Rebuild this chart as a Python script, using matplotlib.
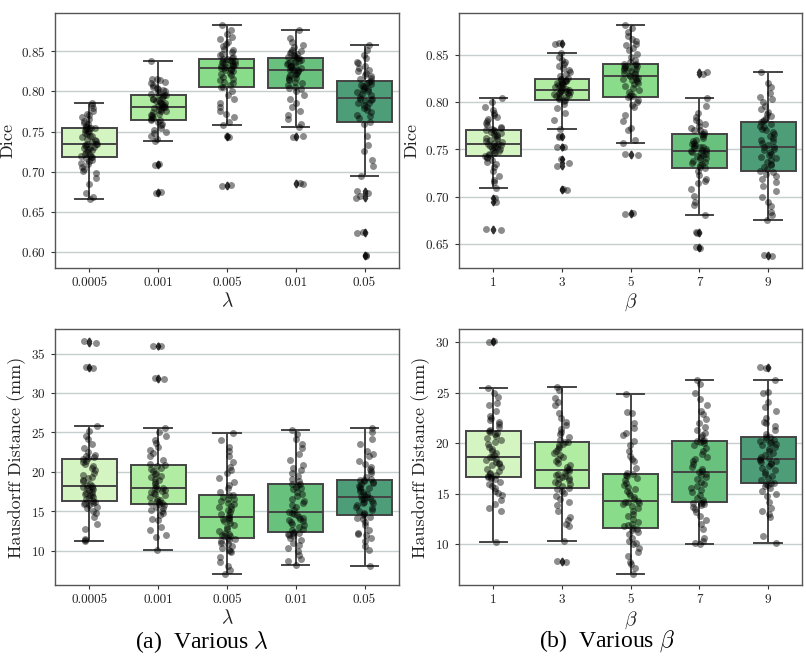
import matplotlib
matplotlib.use("Agg")
import matplotlib.pyplot as plt
from matplotlib.ticker import MultipleLocator
import numpy as np
import pandas as pd
import seaborn as sns

# categories
lambda_labels = ["0.0005", "0.001", "0.005", "0.01", "0.05"]
beta_labels = ["1", "3", "5", "7", "9"]

# Dice per lambda
dice_lambda = [
    [0.666, 0.668, 0.674, 0.685, 0.692, 0.698, 0.701, 0.704, 0.706, 0.709, 0.711, 0.713, 0.715, 0.717, 0.718,
     0.718, 0.719, 0.721, 0.722, 0.724, 0.725, 0.727, 0.728, 0.729, 0.730, 0.731, 0.732, 0.733, 0.734, 0.735,
     0.735, 0.737, 0.738, 0.739, 0.741, 0.743, 0.744, 0.745, 0.747, 0.748, 0.750, 0.751, 0.752, 0.753, 0.754,
     0.754, 0.755, 0.756, 0.757, 0.759, 0.761, 0.763, 0.765, 0.768, 0.770, 0.772, 0.775, 0.779, 0.783, 0.786],
    [0.673, 0.675, 0.708, 0.710, 0.738, 0.741, 0.745, 0.748, 0.750, 0.752, 0.755, 0.758, 0.760, 0.762, 0.764,
     0.764, 0.765, 0.767, 0.768, 0.770, 0.771, 0.772, 0.774, 0.775, 0.776, 0.777, 0.778, 0.779, 0.780, 0.781,
     0.781, 0.782, 0.783, 0.784, 0.785, 0.786, 0.787, 0.788, 0.789, 0.790, 0.791, 0.792, 0.794, 0.795, 0.796,
     0.796, 0.797, 0.799, 0.800, 0.802, 0.803, 0.804, 0.806, 0.808, 0.810, 0.812, 0.814, 0.816, 0.816, 0.838],
    [0.682, 0.683, 0.743, 0.745, 0.758, 0.762, 0.768, 0.772, 0.776, 0.780, 0.786, 0.791, 0.796, 0.800, 0.805,
     0.806, 0.808, 0.810, 0.812, 0.814, 0.816, 0.818, 0.820, 0.822, 0.823, 0.825, 0.826, 0.827, 0.828, 0.829,
     0.829, 0.830, 0.831, 0.832, 0.833, 0.834, 0.834, 0.835, 0.836, 0.837, 0.838, 0.838, 0.839, 0.840, 0.840,
     0.841, 0.843, 0.845, 0.847, 0.849, 0.851, 0.853, 0.856, 0.859, 0.862, 0.865, 0.868, 0.872, 0.877, 0.883],
    [0.685, 0.686, 0.743, 0.745, 0.756, 0.760, 0.766, 0.771, 0.776, 0.781, 0.786, 0.791, 0.795, 0.800, 0.803,
     0.804, 0.806, 0.808, 0.810, 0.812, 0.814, 0.815, 0.817, 0.818, 0.820, 0.821, 0.822, 0.823, 0.825, 0.826,
     0.826, 0.827, 0.828, 0.829, 0.830, 0.831, 0.832, 0.833, 0.834, 0.835, 0.836, 0.837, 0.838, 0.839, 0.841,
     0.841, 0.842, 0.843, 0.844, 0.845, 0.846, 0.848, 0.849, 0.850, 0.852, 0.855, 0.858, 0.861, 0.867, 0.876],
    [0.595, 0.596, 0.624, 0.625, 0.667, 0.670, 0.674, 0.676, 0.695, 0.707, 0.715, 0.726, 0.733, 0.744, 0.760,
     0.762, 0.767, 0.769, 0.771, 0.774, 0.777, 0.779, 0.781, 0.783, 0.785, 0.786, 0.788, 0.789, 0.790, 0.791,
     0.793, 0.795, 0.797, 0.799, 0.800, 0.802, 0.803, 0.804, 0.806, 0.807, 0.808, 0.809, 0.811, 0.812, 0.813,
     0.815, 0.817, 0.819, 0.821, 0.823, 0.825, 0.827, 0.829, 0.832, 0.835, 0.837, 0.841, 0.845, 0.852, 0.858],
]

# Dice per beta
dice_beta = [
    [0.665, 0.666, 0.694, 0.699, 0.709, 0.715, 0.718, 0.722, 0.727, 0.731, 0.734, 0.737, 0.739, 0.741, 0.742,
     0.743, 0.744, 0.745, 0.746, 0.747, 0.748, 0.749, 0.750, 0.751, 0.752, 0.753, 0.754, 0.754, 0.755, 0.756,
     0.756, 0.757, 0.758, 0.759, 0.760, 0.761, 0.762, 0.763, 0.764, 0.765, 0.766, 0.767, 0.768, 0.769, 0.770,
     0.771, 0.772, 0.773, 0.774, 0.776, 0.778, 0.780, 0.782, 0.784, 0.786, 0.789, 0.792, 0.795, 0.800, 0.804],
    [0.707, 0.708, 0.732, 0.736, 0.740, 0.752, 0.753, 0.763, 0.764, 0.772, 0.781, 0.788, 0.794, 0.798, 0.801,
     0.802, 0.803, 0.804, 0.805, 0.806, 0.807, 0.808, 0.809, 0.810, 0.810, 0.811, 0.811, 0.812, 0.812, 0.813,
     0.813, 0.814, 0.815, 0.816, 0.817, 0.818, 0.818, 0.819, 0.820, 0.820, 0.821, 0.822, 0.822, 0.823, 0.824,
     0.824, 0.826, 0.828, 0.830, 0.832, 0.834, 0.836, 0.838, 0.840, 0.842, 0.845, 0.848, 0.852, 0.862, 0.863],
    [0.682, 0.683, 0.744, 0.745, 0.757, 0.760, 0.770, 0.773, 0.780, 0.786, 0.795, 0.797, 0.800, 0.802, 0.805,
     0.806, 0.807, 0.809, 0.811, 0.813, 0.815, 0.817, 0.819, 0.820, 0.822, 0.823, 0.824, 0.825, 0.826, 0.827,
     0.828, 0.829, 0.830, 0.831, 0.832, 0.833, 0.834, 0.835, 0.836, 0.836, 0.837, 0.838, 0.838, 0.839, 0.840,
     0.840, 0.842, 0.845, 0.848, 0.851, 0.855, 0.857, 0.860, 0.862, 0.865, 0.867, 0.870, 0.874, 0.879, 0.882],
    [0.646, 0.647, 0.661, 0.662, 0.680, 0.691, 0.694, 0.701, 0.708, 0.714, 0.717, 0.719, 0.723, 0.727, 0.730,
     0.731, 0.733, 0.734, 0.736, 0.737, 0.738, 0.740, 0.741, 0.742, 0.743, 0.744, 0.745, 0.746, 0.747, 0.748,
     0.748, 0.749, 0.750, 0.751, 0.752, 0.753, 0.754, 0.755, 0.756, 0.757, 0.759, 0.760, 0.762, 0.764, 0.766,
     0.766, 0.768, 0.770, 0.771, 0.773, 0.775, 0.777, 0.779, 0.781, 0.784, 0.789, 0.796, 0.804, 0.830, 0.832],
    [0.637, 0.638, 0.675, 0.680, 0.684, 0.690, 0.694, 0.700, 0.706, 0.711, 0.715, 0.719, 0.722, 0.724, 0.726,
     0.727, 0.729, 0.731, 0.733, 0.735, 0.737, 0.739, 0.741, 0.742, 0.744, 0.745, 0.747, 0.749, 0.750, 0.752,
     0.753, 0.755, 0.757, 0.759, 0.760, 0.762, 0.764, 0.766, 0.768, 0.770, 0.772, 0.774, 0.775, 0.777, 0.779,
     0.780, 0.781, 0.783, 0.785, 0.787, 0.790, 0.793, 0.796, 0.800, 0.803, 0.805, 0.810, 0.816, 0.820, 0.832],
]

# Hausdorff distance (mm) per lambda
hd_lambda = [
    [11.2, 11.3, 11.5, 12.8, 13.4, 14.3, 14.8, 15.0, 15.4, 15.6, 15.8, 15.9, 16.0, 16.1, 16.2,
     16.3, 16.5, 16.7, 16.8, 17.0, 17.1, 17.2, 17.3, 17.5, 17.7, 17.8, 17.9, 18.0, 18.1, 18.2,
     18.3, 18.5, 18.8, 19.0, 19.2, 19.3, 19.6, 19.9, 20.2, 20.5, 20.8, 21.0, 21.2, 21.4, 21.6,
     21.7, 21.9, 22.0, 22.1, 22.5, 23.0, 23.5, 24.2, 24.6, 25.2, 25.8, 33.2, 33.3, 36.4, 36.6],
    [10.1, 11.7, 12.0, 12.6, 13.0, 13.9, 14.0, 14.5, 14.8, 15.0, 15.2, 15.4, 15.6, 15.8, 15.9,
     16.0, 16.1, 16.2, 16.3, 16.4, 16.6, 16.8, 17.0, 17.2, 17.3, 17.4, 17.6, 17.7, 17.8, 17.9,
     18.0, 18.2, 18.5, 18.7, 18.9, 19.1, 19.3, 19.5, 19.7, 19.9, 20.1, 20.3, 20.5, 20.7, 20.9,
     21.0, 21.5, 22.0, 22.4, 22.8, 23.2, 23.7, 24.0, 24.5, 25.0, 25.6, 31.8, 31.9, 35.9, 36.0],
    [7.1, 7.6, 8.0, 8.5, 9.2, 9.8, 10.0, 10.1, 10.3, 10.6, 10.8, 11.0, 11.2, 11.4, 11.5,
     11.6, 11.8, 11.9, 12.0, 12.1, 12.3, 12.5, 12.8, 13.0, 13.3, 13.5, 13.7, 13.9, 14.0, 14.2,
     14.3, 14.5, 14.7, 14.9, 15.1, 15.3, 15.5, 15.7, 15.9, 16.1, 16.3, 16.5, 16.6, 16.8, 17.0,
     17.1, 17.5, 18.0, 18.3, 18.7, 19.2, 19.8, 20.2, 20.6, 21.2, 22.0, 22.7, 23.1, 24.0, 24.9],
    [8.2, 8.7, 9.0, 9.4, 9.9, 10.3, 10.7, 11.0, 11.3, 11.6, 11.8, 12.0, 12.1, 12.2, 12.3,
     12.4, 12.6, 12.8, 13.0, 13.2, 13.4, 13.6, 13.8, 13.9, 14.0, 14.1, 14.3, 14.5, 14.7, 14.8,
     14.9, 15.2, 15.5, 15.8, 16.0, 16.3, 16.6, 16.9, 17.2, 17.5, 17.8, 18.0, 18.1, 18.3, 18.4,
     18.5, 18.8, 19.1, 19.5, 19.8, 20.2, 20.5, 20.9, 21.5, 22.3, 23.0, 23.5, 24.2, 24.8, 25.3],
    [8.1, 10.1, 10.6, 11.2, 11.6, 12.0, 12.1, 12.3, 12.6, 13.2, 13.6, 14.0, 14.1, 14.3, 14.5,
     14.6, 14.8, 15.0, 15.2, 15.4, 15.6, 15.8, 16.0, 16.1, 16.2, 16.3, 16.5, 16.6, 16.7, 16.8,
     16.9, 17.0, 17.2, 17.4, 17.6, 17.8, 18.0, 18.1, 18.2, 18.4, 18.6, 18.7, 18.8, 18.9, 19.0,
     19.1, 19.4, 19.8, 20.1, 20.4, 20.6, 21.0, 21.4, 22.0, 22.3, 22.6, 23.5, 24.2, 25.0, 25.6],
]

# Hausdorff distance (mm) per beta
hd_beta = [
    [10.2, 13.3, 13.6, 14.0, 14.4, 14.9, 15.1, 15.3, 15.6, 15.8, 16.0, 16.2, 16.4, 16.5, 16.6,
     16.6, 16.7, 16.8, 16.9, 17.0, 17.2, 17.4, 17.6, 17.8, 17.9, 18.0, 18.1, 18.3, 18.4, 18.6,
     18.6, 18.8, 19.0, 19.2, 19.4, 19.6, 19.9, 20.1, 20.3, 20.5, 20.7, 20.9, 21.0, 21.1, 21.2,
     21.3, 21.6, 21.9, 22.1, 22.3, 22.5, 22.7, 23.2, 23.8, 24.0, 24.6, 25.0, 25.4, 30.0, 30.1],
    [8.2, 8.3, 10.3, 11.8, 12.0, 12.4, 12.7, 13.3, 13.9, 14.2, 14.5, 14.8, 15.1, 15.3, 15.5,
     15.6, 15.8, 16.0, 16.1, 16.2, 16.3, 16.4, 16.5, 16.6, 16.7, 16.8, 16.9, 17.0, 17.2, 17.3,
     17.4, 17.6, 17.8, 18.0, 18.2, 18.4, 18.6, 18.8, 19.0, 19.2, 19.4, 19.6, 19.8, 19.9, 20.1,
     20.1, 20.3, 20.6, 20.9, 21.1, 21.4, 21.8, 22.1, 22.5, 23.0, 23.8, 24.1, 24.5, 25.2, 25.5],
    [7.1, 7.6, 8.0, 8.2, 8.8, 9.2, 9.6, 10.0, 10.1, 10.3, 10.6, 11.0, 11.2, 11.4, 11.5,
     11.6, 11.8, 11.9, 12.0, 12.2, 12.5, 12.8, 13.0, 13.3, 13.6, 13.8, 14.0, 14.1, 14.2, 14.2,
     14.3, 14.5, 14.7, 14.9, 15.1, 15.3, 15.5, 15.7, 15.9, 16.1, 16.3, 16.5, 16.7, 16.8, 16.9,
     17.0, 17.5, 18.2, 18.4, 18.7, 19.2, 19.8, 20.2, 20.8, 21.0, 21.5, 22.0, 23.0, 23.1, 24.9],
    [10.0, 10.1, 10.3, 10.6, 11.5, 12.0, 12.4, 12.8, 13.2, 13.5, 13.7, 13.9, 14.0, 14.1, 14.1,
     14.2, 14.4, 14.6, 14.9, 15.2, 15.4, 15.6, 15.8, 16.0, 16.2, 16.4, 16.6, 16.8, 16.9, 17.1,
     17.2, 17.4, 17.6, 17.9, 18.2, 18.4, 18.6, 18.9, 19.2, 19.5, 19.8, 20.0, 20.1, 20.2, 20.2,
     20.3, 20.6, 20.8, 21.0, 21.3, 21.6, 22.0, 22.4, 22.9, 23.2, 23.8, 24.4, 25.0, 25.8, 26.2],
    [10.1, 10.8, 12.7, 13.0, 13.3, 13.6, 14.2, 14.8, 15.0, 15.3, 15.6, 15.8, 15.9, 16.0, 16.1,
     16.1, 16.3, 16.5, 16.7, 16.9, 17.1, 17.3, 17.5, 17.7, 17.9, 18.0, 18.1, 18.2, 18.3, 18.4,
     18.5, 18.6, 18.8, 19.0, 19.2, 19.4, 19.6, 19.8, 19.9, 20.0, 20.1, 20.2, 20.3, 20.4, 20.6,
     20.6, 20.9, 21.3, 21.7, 22.0, 22.1, 22.5, 23.2, 23.6, 24.1, 25.0, 25.1, 26.2, 27.4, 27.5],
]

box_colors = ["#d4f5c2", "#b0eca2", "#88dc8a", "#68c27e", "#4d9e78"]

plt.rcParams["font.family"] = "cmr10"
plt.rcParams["mathtext.fontset"] = "cm"
plt.rcParams["axes.formatter.use_mathtext"] = True

np.random.seed(3)

fig = plt.figure(figsize=(8.06, 6.56), dpi=100)

panels = [
    # values, labels, xlabel, ylabel, ytick step, rect
    (dice_lambda, lambda_labels, r"$\lambda$", "Dice", 0.05, [0.068, 0.592, 0.427, 0.388]),
    (dice_beta, beta_labels, r"$\beta$", "Dice", 0.05, [0.5695, 0.592, 0.426, 0.388]),
    (hd_lambda, lambda_labels, r"$\lambda$", "Hausdorff Distance (mm)", 5, [0.068, 0.108, 0.427, 0.39]),
    (hd_beta, beta_labels, r"$\beta$", "Hausdorff Distance (mm)", 5, [0.5695, 0.108, 0.426, 0.39]),
]

for values, labels, xlab, ylab, step, rect in panels:
    ax = fig.add_axes(rect)
    rows = []
    for lab, vals in zip(labels, values):
        for v in vals:
            rows.append((lab, v))
    df = pd.DataFrame(rows, columns=["group", "value"])

    ax.set_axisbelow(True)
    ax.yaxis.grid(True, color="#c6cfcf", linewidth=1.0)

    sns.boxplot(data=df, x="group", y="value", hue="group", order=labels, hue_order=labels,
                palette=box_colors, saturation=1, legend=False, width=0.8,
                linecolor="#444444", linewidth=1.4, fliersize=3.5,
                flierprops=dict(marker="d", markerfacecolor="#333333",
                                markeredgecolor="#333333"),
                ax=ax)
    sns.stripplot(data=df, x="group", y="value", order=labels, color="black",
                  alpha=0.45, size=5, jitter=0.12, linewidth=0, ax=ax, zorder=3)

    ax.yaxis.set_major_locator(MultipleLocator(step))
    ax.set_xlabel(xlab, fontsize=14, color="#222222", labelpad=2)
    ax.set_ylabel(ylab, fontsize=13, color="#222222")
    ax.tick_params(axis="both", labelsize=9.5, length=3, color="#333333", labelcolor="#222222")
    for sp in ax.spines.values():
        sp.set_color("#555555")
        sp.set_linewidth(1.0)

fig.text(0.25, 0.022, r"(a)  Various $\lambda$", ha="center", va="center",
         fontsize=17, family="Liberation Serif")
fig.text(0.753, 0.022, r"(b)  Various $\beta$", ha="center", va="center",
         fontsize=17, family="Liberation Serif")

fig.savefig("out.png", dpi=100)
